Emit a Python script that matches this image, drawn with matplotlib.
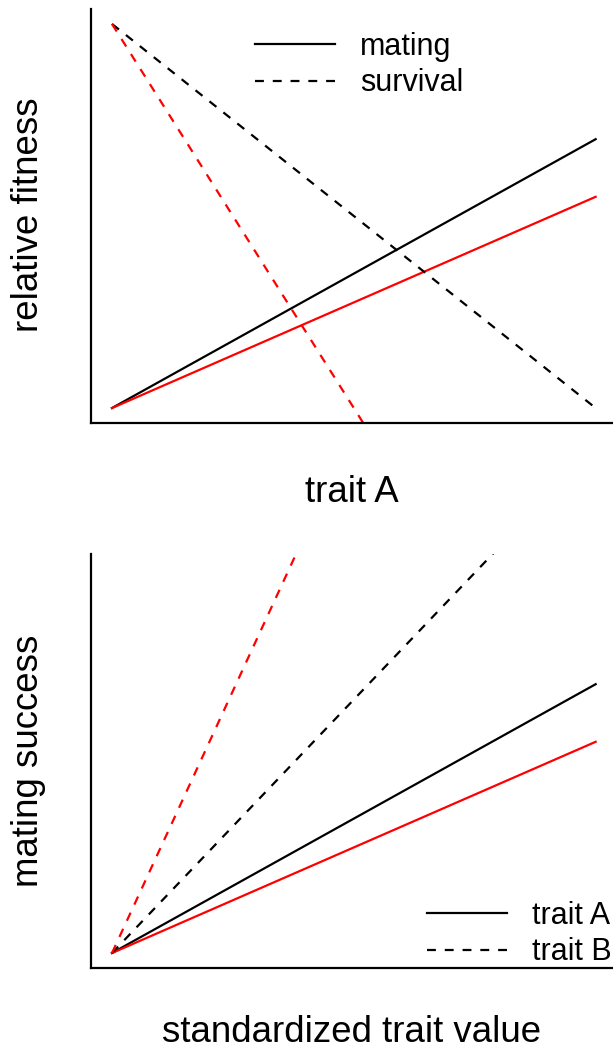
import numpy as np
import matplotlib.pyplot as plt

plt.rcParams['font.family'] = ['Liberation Sans', 'DejaVu Sans']

# trait values (standardized) at the two ends of each line
x = np.array([0.0, 1.0])

# top: relative fitness against trait A
mating_black = np.array([0.0, 0.70])
mating_red = np.array([0.0, 0.55])
survival_black = np.array([1.0, 0.0])
survival_red = np.array([1.0, -1.0])

# bottom: mating success against trait value
traitA_black = np.array([0.0, 0.70])
traitA_red = np.array([0.0, 0.55])
traitB_black = np.array([0.0, 1.32])
traitB_red = np.array([0.0, 2.73])

W, H = 613, 1053
fig = plt.figure(figsize=(W / 100, H / 100), dpi=100)

def px_axes(left, top, right, bottom):
    return fig.add_axes([left / W, 1 - bottom / H, (right - left) / W, (bottom - top) / H])

dash = (0, (4, 4))
lw = 1.6

def style(ax):
    ax.set_xlim(-0.0434, 1.04)
    ax.set_ylim(-0.04, 1.04)
    for s in ['top', 'right']:
        ax.spines[s].set_visible(False)
    for s in ['left', 'bottom']:
        ax.spines[s].set_linewidth(1.6)
    ax.set_xticks([])
    ax.set_yticks([])

leg_kw = dict(bbox_transform=fig.transFigure, frameon=False, fontsize=22,
              handlelength=2.62, handletextpad=0.82, labelspacing=0.21,
              borderpad=0, borderaxespad=0, loc='upper left')

ax1 = px_axes(91, 8.6, 615, 423.4)
style(ax1)
l1, = ax1.plot(x, mating_black, color='black', lw=lw, label='mating')
ax1.plot(x, mating_red, color='red', lw=lw)
l2, = ax1.plot(x, survival_black, color='black', lw=lw, ls=dash, label='survival')
ax1.plot(x, survival_red, color='red', lw=lw, ls=dash)
ax1.legend(handles=[l1, l2], bbox_to_anchor=(255 / W, 1 - 32 / H), **leg_kw)

ax2 = px_axes(91, 553.6, 615, 968.4)
style(ax2)
l3, = ax2.plot(x, traitA_black, color='black', lw=lw, label='trait A')
ax2.plot(x, traitA_red, color='red', lw=lw)
l4, = ax2.plot(x, traitB_black, color='black', lw=lw, ls=dash, label='trait B')
ax2.plot(x, traitB_red, color='red', lw=lw, ls=dash)
ax2.legend(handles=[l3, l4], bbox_to_anchor=(427 / W, 1 - 901 / H), **leg_kw)

fig.text(28 / W, 1 - 215 / H, 'relative fitness', rotation=90, fontsize=26.4,
         ha='center', va='center')
fig.text(352 / W, 1 - 492 / H, 'trait A', fontsize=26.4, ha='center', va='center')
fig.text(28 / W, 1 - 761 / H, 'mating success', rotation=90, fontsize=26.4,
         ha='center', va='center')
fig.text(352 / W, 1 - 1033 / H, 'standardized trait value', fontsize=26.4,
         ha='center', va='center')

fig.savefig('out.png', dpi=100)
